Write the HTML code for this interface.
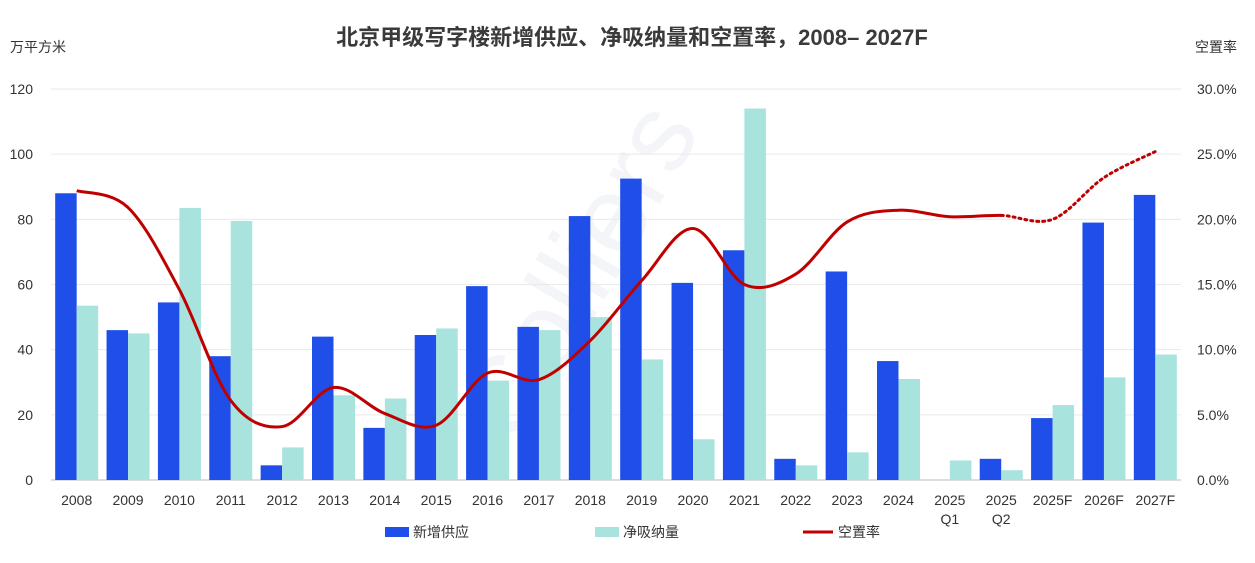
<!DOCTYPE html>
<html><head><meta charset="utf-8">
<style>
body{margin:0;background:#fff;}
svg text{font-family:"Liberation Sans","Noto Sans CJK SC",sans-serif;}
</style></head>
<body>
<svg id="chart" width="1255" height="558" viewBox="0 0 1255 558" xmlns="http://www.w3.org/2000/svg">
<rect width="1255" height="558" fill="#fff"/>
<text x="632" y="45" text-anchor="middle" font-size="22" font-weight="bold" fill="#3a3a3a">北京甲级写字楼新增供应、净吸纳量和空置率，2008– 2027F</text>
<text x="10" y="52" font-size="14" fill="#333">万平方米</text>
<text x="1195" y="52" font-size="14" fill="#333">空置率</text>
<text x="610" y="290" text-anchor="middle" font-size="110" font-family="Liberation Serif" fill="#f4f5f8" transform="rotate(-60 610 290)">Colliers</text>
<g id="grid"></g><g id="bars"></g><g id="line"></g><g id="axes"></g>
<g>
<rect x="385" y="527" width="24" height="10" fill="#1f4fe8"/>
<text x="413" y="537" font-size="14" fill="#333">新增供应</text>
<rect x="595" y="527" width="24" height="10" fill="#a8e3dd"/>
<text x="623" y="537" font-size="14" fill="#333">净吸纳量</text>
<line x1="803" y1="532" x2="833" y2="532" stroke="#c00000" stroke-width="3"/>
<text x="838" y="537" font-size="14" fill="#333">空置率</text>
</g>
</svg>
<script>
const categories=["2008","2009","2010","2011","2012","2013","2014","2015","2016","2017","2018","2019","2020","2021","2022","2023","2024","2025\nQ1","2025\nQ2","2025F","2026F","2027F"];
const supply=[88,46,54.5,38,4.5,44,16,44.5,59.5,47,81,92.5,60.5,70.5,6.5,64,36.5,0,6.5,19,79,87.5];
const absorption=[53.5,45,83.5,79.5,10,26,25,46.5,30.5,46,50,37,12.5,114,4.5,8.5,31,6,3,23,31.5,38.5];
const vacancy=[22.2,20.9,14.6,6.1,4.1,7.1,5.1,4.2,8.2,7.7,10.7,15.3,19.3,15.0,15.8,19.8,20.7,20.2,20.3,20.0,23.2,25.2];
const forecastStart=18;
const leftTicks=[0,20,40,60,80,100,120];
const rightTicks=["0.0%","5.0%","10.0%","15.0%","20.0%","25.0%","30.0%"];
const NS="http://www.w3.org/2000/svg";
const X0=51,X1=1181,Y0=480,Y1=89;
const step=(X1-X0)/categories.length;
const xc=i=>X0+step*(i+0.5);
const yL=v=>Y0-(v/120)*(Y0-Y1);
const yR=v=>Y0-(v/30)*(Y0-Y1);
function mk(tag,attrs,parent){const e=document.createElementNS(NS,tag);for(const k in attrs)e.setAttribute(k,attrs[k]);parent.appendChild(e);return e;}
const grid=document.getElementById('grid'),bars=document.getElementById('bars'),line=document.getElementById('line'),axes=document.getElementById('axes');
leftTicks.forEach((t,i)=>{
 const l=mk('line',{x1:X0,x2:X1,y1:yL(t),y2:yL(t),stroke:i==0?'#bbb':'#eaeaea','stroke-width':1},grid);
 
 
 const tx=mk('text',{x:33,y:yL(t)+5,'text-anchor':'end','font-size':14,fill:'#333'},axes);tx.textContent=t;
 
 
 const tr=mk('text',{x:1197,y:yL(t)+5,'font-size':14,fill:'#333'},axes);tr.textContent=rightTicks[i];
 
 
});
const bw=21.5;
categories.forEach((c,i)=>{
 const b=mk('rect',{x:xc(i)-bw,y:yL(supply[i]),width:bw,height:Y0-yL(supply[i]),fill:'#1f4fe8'},bars);
 
 
 const a=mk('rect',{x:xc(i),y:yL(absorption[i]),width:bw,height:Y0-yL(absorption[i]),fill:'#a8e3dd'},bars);
 
 
 c.split("\n").forEach((s,j)=>{
  const t=mk('text',{x:xc(i),y:505+j*19,'text-anchor':'middle','font-size':14,fill:'#333'},axes);t.textContent=s;
  
  
 });
});
const pts=vacancy.map((v,i)=>[xc(i),yR(v)]);
function path(from,to){
 let d=`M${pts[from][0]},${pts[from][1]}`;
 for(let i=from;i<to;i++){
  const p0=pts[Math.max(i-1,0)],p1=pts[i],p2=pts[i+1],p3=pts[Math.min(i+2,pts.length-1)];
  const c1=[p1[0]+(p2[0]-p0[0])/6,p1[1]+(p2[1]-p0[1])/6],c2=[p2[0]-(p3[0]-p1[0])/6,p2[1]-(p3[1]-p1[1])/6];
  d+=` C${c1[0]},${c1[1]} ${c2[0]},${c2[1]} ${p2[0]},${p2[1]}`;
 }
 return d;
}
const s=mk('path',{d:path(0,forecastStart),fill:'none',stroke:'#c00000','stroke-width':3},line);


const f=mk('path',{d:path(forecastStart,pts.length-1),fill:'none',stroke:'#c00000','stroke-width':3,'stroke-dasharray':'2 4','stroke-linecap':'round'},line);


</script>
</body></html>
